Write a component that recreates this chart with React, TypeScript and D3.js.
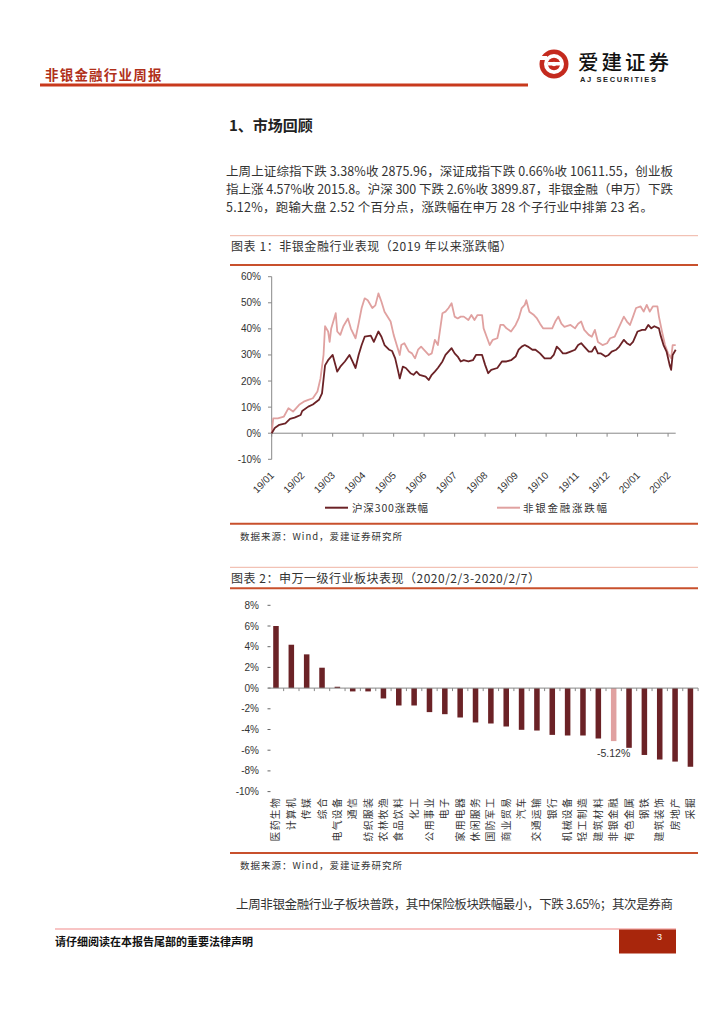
import React from 'react';
import * as d3 from 'd3';

// ---- Chart 1 data: cumulative change since 2019 (%), by trading-day index ----
const hs300Day = [0, 2, 5, 9, 12, 15, 19, 20, 24, 27, 31, 33, 35, 37, 40, 43, 45, 48, 51, 53, 55, 57, 59, 61, 65, 67, 69, 70, 72, 74, 77, 79, 81, 83, 84, 86, 88, 91, 93, 95, 97, 101, 103, 105, 107, 109, 112, 114, 118, 120, 122, 124, 126, 129, 132, 134, 138, 140, 142, 144, 148, 151, 154, 157, 160, 162, 164, 166, 168, 171, 173, 176, 179, 183, 185, 187, 189, 191, 193, 196, 199, 201, 203, 205, 208, 210, 212, 214, 216, 219, 221, 223, 226, 228, 231, 233, 235, 237, 240, 243, 245, 247, 249, 251, 254, 255, 257, 259, 261, 262, 263, 265];
const hs300Pct = [0, 2, 3.2, 3.8, 5.5, 6, 7, 8.5, 10.2, 11, 12.8, 15.3, 26, 28, 30, 23.6, 25.5, 27.5, 30, 27.5, 25, 30, 33.8, 37, 37.4, 35, 37.7, 39, 37, 33.8, 32, 31.5, 28.7, 23.6, 21, 25.5, 25, 23, 22.4, 23.6, 22.4, 21.7, 20.4, 22.4, 23.6, 25, 27.5, 30, 32.6, 30.6, 29.4, 27.5, 28, 27.5, 28, 30, 30, 26.2, 23, 24.3, 25, 27.5, 27.5, 28, 29.4, 32, 33.2, 33.8, 33.2, 32, 32, 30.6, 28.7, 28.7, 30, 33.2, 32, 30.6, 30.6, 31.3, 32, 33.8, 34.5, 33.2, 31.3, 31.3, 33.2, 30.6, 30.6, 29.4, 30, 31.3, 32, 33.2, 35.8, 34.5, 33.8, 35, 39, 39.6, 39.6, 41.5, 40.2, 41, 40.2, 37.7, 33.8, 31.3, 26.2, 24.3, 30, 32];
const finDay = [0, 1, 4, 8, 11, 14, 18, 21, 24, 27, 30, 32, 34, 35, 37, 38, 39, 42, 43, 45, 47, 50, 52, 55, 57, 59, 61, 63, 66, 68, 70, 72, 74, 78, 80, 82, 84, 85, 87, 90, 92, 94, 96, 98, 101, 103, 105, 107, 109, 112, 114, 116, 118, 120, 122, 124, 126, 129, 131, 133, 135, 138, 139, 141, 143, 145, 148, 150, 152, 154, 157, 160, 162, 164, 166, 167, 169, 172, 174, 176, 178, 180, 184, 186, 188, 190, 192, 196, 199, 201, 203, 205, 208, 210, 212, 214, 217, 220, 222, 225, 227, 231, 233, 235, 237, 239, 242, 244, 246, 248, 250, 253, 254, 256, 258, 260, 262, 263, 265];
const finPct = [0, 5.7, 5.7, 6.4, 9.6, 8.3, 10.9, 12.1, 12.8, 13.4, 16, 21, 30, 41, 39, 35, 40, 46, 39, 37.7, 41, 44, 40, 36.4, 42, 48, 51.7, 51, 48, 49, 53.6, 50.4, 46.6, 42.8, 37.7, 33.8, 30, 33.8, 34.5, 31.3, 30.6, 28.7, 32, 33.2, 31.3, 30, 30.6, 35.8, 33.8, 46, 46.6, 48, 49.8, 44.7, 44, 44.7, 44.7, 43.4, 45.3, 43.4, 45.3, 45.3, 40.2, 37, 33.8, 35.8, 36.4, 41.5, 41.5, 40.2, 39, 41.5, 44, 48, 49.2, 51, 46.6, 45.3, 44, 42, 40.2, 40.2, 40.2, 42.8, 44.7, 42, 40.8, 41.5, 40.2, 42, 42.8, 39.6, 37.7, 37, 39.6, 35, 33.8, 34.5, 36.4, 37, 39.6, 44.7, 42.8, 41.5, 44.7, 48, 48.6, 46.6, 49.2, 46.6, 48.6, 48.6, 44.7, 39, 33.8, 30.6, 28.7, 33.8, 33.8];
const xTickLabels = ['19/01', '19/02', '19/03', '19/04', '19/05', '19/06', '19/07', '19/08', '19/09', '19/10', '19/11', '19/12', '20/01', '20/02'];
const yTicks1 = [60, 50, 40, 30, 20, 10, 0, -10];
const seriesNames = ['沪深300涨跌幅', '非银金融涨跌幅'];

// ---- Chart 2 data: SW level-1 industries weekly change (%) ----
const industries = ['医药生物', '计算机', '传媒', '综合', '电气设备', '通信', '纺织服装', '农林牧渔', '食品饮料', '化工', '公用事业', '电子', '家用电器', '休闲服务', '国防军工', '商业贸易', '汽车', '交通运输', '银行', '机械设备', '轻工制造', '建筑材料', '非银金融', '有色金属', '钢铁', '建筑装饰', '房地产', '采掘'];
const weeklyChange = [6.0, 4.19, 3.26, 1.97, 0.13, -0.32, -0.32, -1.0, -1.68, -1.68, -2.32, -2.52, -2.84, -3.32, -3.42, -3.71, -4.03, -4.1, -4.52, -4.58, -4.58, -4.87, -5.12, -5.77, -6.46, -6.9, -7.1, -7.6];
const yTicks2 = [8, 6, 4, 2, 0, -2, -4, -6, -8, -10];
const highlight = '非银金融';

const para1 = [
  '上周上证综指下跌 3.38%收 2875.96，深证成指下跌 0.66%收 10611.55，创业板',
  '指上涨 4.57%收 2015.8。沪深 300 下跌 2.6%收 3899.87，非银金融（申万）下跌',
  '5.12%，跑输大盘 2.52 个百分点，涨跌幅在申万 28 个子行业中排第 23 名。',
];
const para2 = '上周非银金融行业子板块普跌，其中保险板块跌幅最小，下跌 3.65%；其次是券商';

const CJK = '"Noto Sans CJK SC", "Noto Sans", sans-serif';
const SANS = '"Liberation Sans", Arial, sans-serif';
const DARK = '#6b2226';
const LIGHT = '#e0a1a0';
const RULE = '#c8502c';
const TXT = '#333333';

export default function App() {
  // chart 1 scales
  const x1 = d3.scaleLinear().domain([0, 265]).range([271.7, 675.7]);
  const y1 = d3.scaleLinear().domain([-10, 60]).range([459.3, 276.7]);
  const mk = (days: number[], vals: number[]) =>
    d3.line<[number, number]>().x((d) => x1(d[0])).y((d) => y1(d[1]))(days.map((d, i) => [d, vals[i]] as [number, number])) || '';
  const hsPath = mk(hs300Day, hs300Pct);
  const finPath = mk(finDay, finPct);
  const tickDays = xTickLabels.map((_, i) => i * 20);

  // chart 2 scales
  const x2 = d3.scaleBand<string>().domain(industries).range([268.3, 698.1]).paddingInner(0.64).paddingOuter(0.32);
  const y2 = d3.scaleLinear().domain([-10, 8]).range([791.6, 605.3]);
  const step = x2.step();
  const x2start = 268.3;
  const hiVal = weeklyChange[industries.indexOf(highlight)];

  return (
    <svg width={724} height={1024} style={{ position: 'absolute', left: 0, top: 0, background: '#fff' }}>
      {/* header */}
      <text x={45} y={80} fontFamily={CJK} fontSize={13.5} fontWeight={700} fill="#b0301a" letterSpacing={1.2}>非银金融行业周报</text>
      <line x1={40} x2={528} y1={85} y2={85} stroke="#c8391c" strokeWidth={3} />
      <g>
        <circle cx={554} cy={64} r={14.5} fill="#c42a1e" />
        <circle cx={554} cy={64} r={10} fill="#fff" />
        <circle cx={554} cy={64} r={6.2} fill="#c42a1e" />
        <rect x={548} y={62} width={14} height={3.5} fill="#fff" />
        <rect x={539} y={56} width={8} height={4} fill="#fff" />
        <circle cx={554} cy={64} r={2.2} fill="#fff" />
      </g>
      <text x={578} y={70} fontFamily={CJK} fontSize={20.5} fontWeight={500} fill="#111" letterSpacing={3}>爱建证券</text>
      <text x={580} y={82} fontFamily={SANS} fontSize={7.5} fontWeight={700} fill="#222" letterSpacing={1.6}>AJ SECURITIES</text>

      {/* section title */}
      <text x={229} y={131} fontFamily={CJK} fontSize={15} fontWeight={700} fill="#222">1、市场回顾</text>

      {/* paragraph */}
      {para1.map((t, i) => (
        <text key={i} x={226} y={176 + i * 18} fontFamily={CJK} fontSize={12.5} fill={TXT}
          textLength={i < 2 ? 447 : 427} lengthAdjust="spacing">{t}</text>
      ))}

      {/* chart 1 frame */}
      <line x1={230} x2={698} y1={235.7} y2={235.7} stroke="#efb3a3" strokeWidth={1} />
      <text x={231} y={251} fontFamily={CJK} fontSize={12} fill={TXT} textLength={281} lengthAdjust="spacing">图表 1：非银金融行业表现（2019 年以来涨跌幅）</text>
      <line x1={230} x2={698} y1={265} y2={265} stroke={RULE} strokeWidth={2} />

      {/* chart 1 axes */}
      <line x1={271.7} x2={271.7} y1={y1(60)} y2={y1(-10)} stroke="#888" strokeWidth={1} />
      {yTicks1.map((v) => (
        <g key={v}>
          <line x1={268} x2={271.7} y1={y1(v)} y2={y1(v)} stroke="#888" />
          <text x={261} y={y1(v) + 3.5} textAnchor="end" fontFamily={SANS} fontSize={10} fill={TXT}>{v}%</text>
        </g>
      ))}
      <line x1={271.7} x2={675.7} y1={y1(0)} y2={y1(0)} stroke="#888" strokeWidth={1} />
      {tickDays.map((d, i) => (
        <g key={i}>
          <line x1={x1(d)} x2={x1(d)} y1={y1(0)} y2={y1(0) + 3.5} stroke="#888" />
          <text transform={`translate(${x1(d) + 3},${476}) rotate(-45)`} textAnchor="end" fontFamily={SANS} fontSize={10} fill={TXT}>{xTickLabels[i]}</text>
        </g>
      ))}
      <path d={finPath} fill="none" stroke={LIGHT} strokeWidth={1.8} strokeLinejoin="round" />
      <path d={hsPath} fill="none" stroke={DARK} strokeWidth={1.8} strokeLinejoin="round" />

      {/* legend */}
      <line x1={325} x2={348} y1={507.7} y2={507.7} stroke={DARK} strokeWidth={2} />
      <text x={352} y={511.5} fontFamily={CJK} fontSize={10.5} fill={TXT} textLength={76} lengthAdjust="spacing">{seriesNames[0]}</text>
      <line x1={497} x2={520} y1={507.7} y2={507.7} stroke={LIGHT} strokeWidth={2} />
      <text x={523} y={511.5} fontFamily={CJK} fontSize={10.5} fill={TXT} textLength={84} lengthAdjust="spacing">{seriesNames[1]}</text>
      <line x1={230} x2={698} y1={523.7} y2={523.7} stroke={RULE} strokeWidth={2} />
      <text x={240} y={540} fontFamily={CJK} fontSize={9.5} fill={TXT} textLength={162} lengthAdjust="spacing">数据来源：Wind，爱建证券研究所</text>

      {/* chart 2 frame */}
      <line x1={230} x2={698} y1={567.3} y2={567.3} stroke="#efb3a3" strokeWidth={1} />
      <text x={231} y={583} fontFamily={CJK} fontSize={12} fill={TXT} textLength={309} lengthAdjust="spacing">图表 2：申万一级行业板块表现（2020/2/3-2020/2/7）</text>
      <line x1={230} x2={698} y1={588.3} y2={588.3} stroke={RULE} strokeWidth={2} />

      {yTicks2.map((v) => (
        <g key={v}>
          <line x1={267.5} x2={270.5} y1={y2(v)} y2={y2(v)} stroke="#666" />
          <text x={259} y={y2(v) + 3.5} textAnchor="end" fontFamily={SANS} fontSize={10} fill={TXT}>{v}%</text>
        </g>
      ))}
      {industries.map((name, i) => {
        const v = weeklyChange[i];
        const bx = x2(name) as number;
        return (
          <rect key={name} x={bx} width={x2.bandwidth()} y={y2(Math.max(0, v))} height={Math.abs(y2(v) - y2(0))}
            fill={name === highlight ? LIGHT : DARK} />
        );
      })}
      <line x1={x2start} x2={698.1} y1={y2(0)} y2={y2(0)} stroke="#888" strokeWidth={1} />
      {industries.map((_, i) => (
        <line key={i} x1={x2start + (i + 1) * step} x2={x2start + (i + 1) * step} y1={y2(0)} y2={y2(0) + 3} stroke="#888" />
      ))}
      {industries.map((name) => {
        const cx = (x2(name) as number) + x2.bandwidth() / 2;
        return (
          <text key={name} transform={`translate(${cx + 3.5},${797}) rotate(-90)`} textAnchor="end" fontFamily={CJK} fontSize={9.8} letterSpacing={1.3} fill={TXT}>{name}</text>
        );
      })}
      <text x={(x2(highlight) as number) + x2.bandwidth() / 2} y={y2(hiVal) + 16} textAnchor="middle" fontFamily={SANS} fontSize={10.5} fill={TXT}>
        {hiVal.toFixed(2)}%
      </text>
      <line x1={230} x2={698} y1={853} y2={853} stroke={RULE} strokeWidth={2} />
      <text x={240} y={869} fontFamily={CJK} fontSize={9.5} fill={TXT} textLength={162} lengthAdjust="spacing">数据来源：Wind，爱建证券研究所</text>

      {/* second paragraph */}
      <text x={236} y={909} fontFamily={CJK} fontSize={12.5} fill={TXT} textLength={437} lengthAdjust="spacing">{para2}</text>

      {/* footer */}
      <line x1={55} x2={676} y1={929} y2={929} stroke="#f28a8a" strokeWidth={1.2} />
      <rect x={619} y={929.5} width={57} height={24} fill="#a8260c" />
      <text x={657} y={940} fontFamily={SANS} fontSize={9} fill="#fff">3</text>
      <text x={55} y={946} fontFamily={CJK} fontSize={11} fontWeight={700} fill="#111">请仔细阅读在本报告尾部的重要法律声明</text>
    </svg>
  );
}
